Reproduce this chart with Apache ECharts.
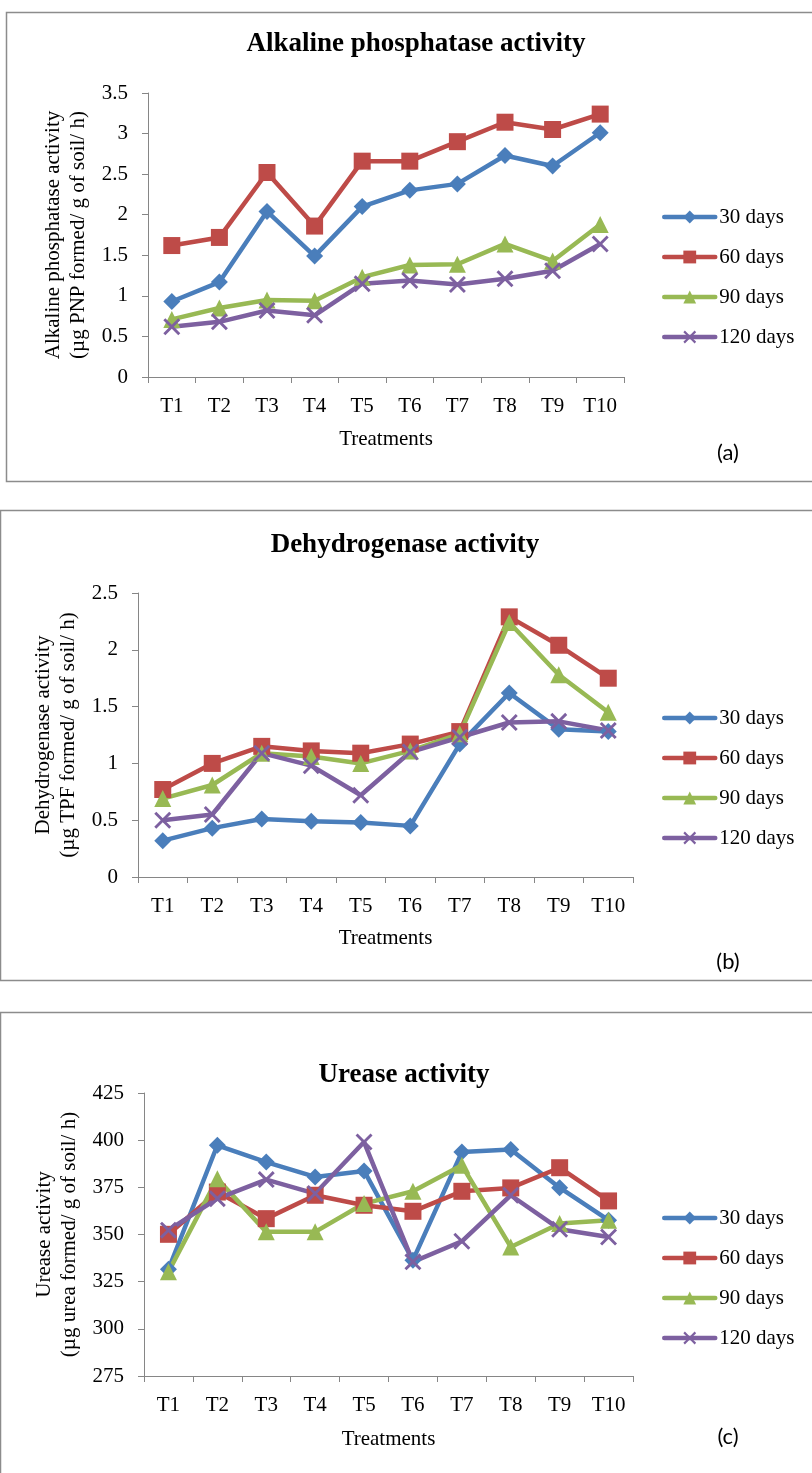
<!DOCTYPE html>
<html>
<head>
<meta charset="utf-8">
<script src="https://cdn.jsdelivr.net/npm/echarts@6/dist/echarts.min.js"></script>
<style>
html,body{margin:0;padding:0;background:#fff;}
#chart{width:812px;height:1473px;}
</style>
</head>
<body>
<div id="chart"></div>
<script>
// ---- data ----
const categories = ['T1','T2','T3','T4','T5','T6','T7','T8','T9','T10'];
const seriesNames = ['30 days','60 days','90 days','120 days'];

const alk30  = [0.93,1.17,2.04,1.49,2.10,2.30,2.38,2.73,2.60,3.01];
const alk60  = [1.62,1.72,2.52,1.86,2.66,2.66,2.90,3.14,3.05,3.24];
const alk90  = [0.71,0.85,0.95,0.94,1.23,1.38,1.39,1.64,1.43,1.88];
const alk120 = [0.62,0.68,0.82,0.76,1.15,1.19,1.14,1.21,1.31,1.64];

const dh30  = [0.32,0.43,0.51,0.49,0.48,0.45,1.17,1.62,1.30,1.28];
const dh60  = [0.77,1.00,1.15,1.11,1.09,1.17,1.28,2.29,2.04,1.75];
const dh90  = [0.69,0.81,1.09,1.06,1.00,1.11,1.26,2.24,1.78,1.45];
const dh120 = [0.50,0.55,1.09,0.98,0.72,1.10,1.23,1.36,1.37,1.29];

const ur30  = [331.6,397.3,388.4,380.5,383.7,336.4,393.7,395.1,374.8,357.6];
const ur60  = [350.1,372.5,358.4,370.8,365.5,362.3,372.9,374.7,385.4,367.8];
const ur90  = [330.2,379.6,351.4,351.4,366.4,372.9,386.7,343.4,355.8,357.6];
const ur120 = [352.3,369.0,379.1,371.7,399.0,335.5,346.4,370.8,352.8,348.7];

const panelTitles = ['Alkaline phosphatase activity','Dehydrogenase activity','Urease activity'];
const yNames = [
  'Alkaline phosphatase activity\n(µg PNP formed/ g of soil/ h)',
  'Dehydrogenase activity\n(µg TPF formed/ g of soil/ h)',
  'Urease activity\n(µg urea formed/ g of soil/ h)'
];
const xName = 'Treatments';
const panelTags = ['(a)','(b)','(c)'];
const yRanges = [[0,3.5,0.5],[0,2.5,0.5],[275,425,25]];

// ---- styles ----
const colors = ['#4A7EBB','#BE4B48','#98B954','#7D60A0'];
const crossPath = 'path://M0,1.2L1.2,0L5,3.8L8.8,0L10,1.2L6.2,5L10,8.8L8.8,10L5,6.2L1.2,10L0,8.8L3.8,5Z';
const symbols = ['diamond','rect','triangle',crossPath];
const symbolSizes = [17,17,17,17];
const serif = '"Liberation Serif","Times New Roman",serif';
const axisGray = '#868686';

const panelData = [[alk30,alk60,alk90,alk120],[dh30,dh60,dh90,dh120],[ur30,ur60,ur90,ur120]];
const grids = [
  {left:148, top:93,   right:188, bottom:1473-377},
  {left:138, top:593,  right:179, bottom:1473-877},
  {left:144, top:1093, right:179, bottom:1473-1376}
];
const nameGapsY = [57,55,58];
const nameGapsX = [52,51,53];
const legendTops = [201,702,1202];
const titleY = [46,547,1077];
const titleX = [416,405,404];
const tagY = [453,962,1437];
const boxes = [
  {x:6.5, y:12.5, h:469},
  {x:0.5, y:510.5, h:470},
  {x:0.5, y:1012.5, h:600}
];

const option = {
  animation:false,
  backgroundColor:'#fff',
  title: panelTitles.map((t,i)=>({
    text:t, left:titleX[i], top:titleY[i]-15, textAlign:'center', padding:0,
    textStyle:{fontFamily:serif, fontWeight:'bold', fontSize:27, color:'#000'}
  })),
  legend: [0,1,2].map(i=>({
    data:seriesNames, orient:'vertical', left:657, top:legendTops[i],
    itemWidth:51, itemHeight:16, itemGap:18, selectedMode:false,
    lineStyle:{width:4.5, cap:'round'},
    textStyle:{fontFamily:serif, fontSize:21, color:'#000', lineHeight:22, padding:[0,0,0,-1]}
  })),
  grid: grids,
  xAxis: [0,1,2].map(i=>({
    type:'category', gridIndex:i, data:categories, boundaryGap:true,
    name:xName, nameLocation:'middle', nameGap:nameGapsX[i],
    nameTextStyle:{fontFamily:serif, fontSize:21, color:'#000'},
    axisLine:{lineStyle:{color:axisGray, width:1}},
    axisTick:{show:true, length:6, lineStyle:{color:axisGray}},
    axisLabel:{fontFamily:serif, fontSize:21, color:'#000', margin:19, interval:0},
    splitLine:{show:false}
  })),
  yAxis: [0,1,2].map(i=>({
    type:'value', gridIndex:i, min:yRanges[i][0], max:yRanges[i][1], interval:yRanges[i][2],
    name:yNames[i], nameLocation:'middle', nameRotate:90, nameGap:nameGapsY[i],
    nameTextStyle:{fontFamily:serif, fontSize:21, color:'#000', lineHeight:25},
    axisLine:{show:true, lineStyle:{color:axisGray, width:1}},
    axisTick:{show:true, length:6, lineStyle:{color:axisGray}},
    axisLabel:{fontFamily:serif, fontSize:21, color:'#000', margin:20},
    splitLine:{show:false}
  })),
  series: [],
  graphic: []
};

panelData.forEach((arrs,p)=>{
  arrs.forEach((d,s)=>{
    option.series.push({
      type:'line', name:seriesNames[s], xAxisIndex:p, yAxisIndex:p, data:d,
      symbol:symbols[s], symbolSize:symbolSizes[s], showSymbol:true,
      lineStyle:{color:colors[s], width:4.5},
      itemStyle:{color:colors[s]},
      emphasis:{disabled:true}
    });
  });
});

boxes.forEach(b=>{
  option.graphic.push({type:'rect', silent:true, shape:{x:b.x, y:b.y, width:900, height:b.h},
    style:{fill:null, stroke:'#8C8C8C', lineWidth:1.5}, z:-1});
});
panelTags.forEach((t,i)=>{
  option.graphic.push({type:'text', silent:true, x:728, y:tagY[i],
    style:{text:t, font:'22px Lato, "Open Sans", sans-serif', fill:'#000', textAlign:'center', textVerticalAlign:'middle'}});
});

const chart = echarts.init(document.getElementById('chart'), null, {renderer:'canvas'});
chart.setOption(option);
</script>
</body>
</html>
